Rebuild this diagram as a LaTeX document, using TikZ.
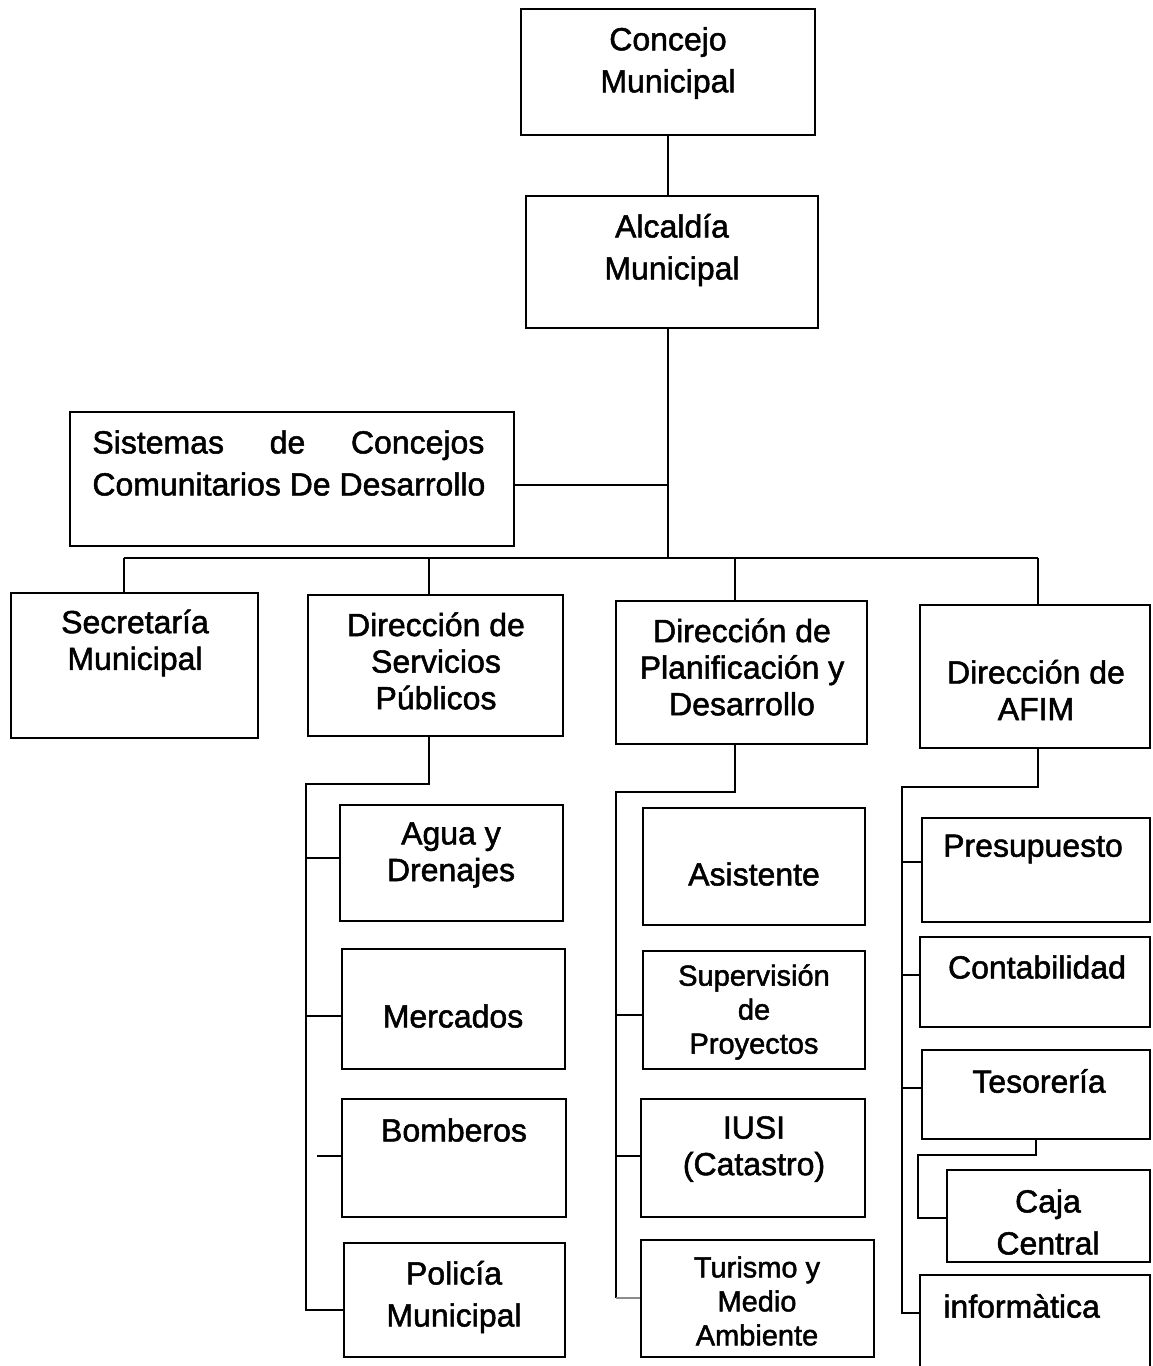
\documentclass[tikz,border=0pt]{standalone}
\usepackage{fontspec}
\setmainfont{Liberation Sans}[FakeBold=1.6]
\usetikzlibrary{fit}
\tikzset{
  box/.style={draw, line width=1pt, inner sep=0pt},
  lbl/.style={align=center, inner sep=0pt, font=\fontsize{16pt}{21pt}\selectfont},
  lbltight/.style={lbl, font=\fontsize{16pt}{18.3pt}\selectfont},
  lblsmall/.style={lbl, font=\fontsize{14.5pt}{17pt}\selectfont},
  conn/.style={line width=0.7pt},
  busline/.style={line width=1.1pt},
  faint/.style={line width=0.6pt, black!45}
}
\begin{document}
\begin{tikzpicture}[x=0.5pt,y=-0.5pt]
\useasboundingbox[fill=white] (0,0) rectangle (1152,1366);

% ---- boxes ----
\node[box, fit={(521,9) (815,135)}] (concejo) {};
\node[box, fit={(526,196) (818,328)}] (alcaldia) {};
\node[box, fit={(70,412) (514,546)}] (sistemas) {};
\node[box, fit={(11,593) (258,738)}] (secretaria) {};
\node[box, fit={(308,595) (563,736)}] (servicios) {};
\node[box, fit={(616,601) (867,744)}] (planif) {};
\node[box, fit={(920,605) (1150,748)}] (afim) {};

\node[box, fit={(340,805) (563,921)}] (agua) {};
\node[box, fit={(342,949) (565,1069)}] (mercados) {};
\node[box, fit={(342,1099) (566,1217)}] (bomberos) {};
\node[box, fit={(344,1243) (565,1357)}] (policia) {};

\node[box, fit={(643,808) (865,925)}] (asistente) {};
\node[box, fit={(643,951) (865,1069)}] (supervision) {};
\node[box, fit={(641,1099) (865,1217)}] (iusi) {};
\node[box, fit={(641,1240) (874,1357)}] (turismo) {};

\node[box, fit={(922,818) (1150,922)}] (presupuesto) {};
\node[box, fit={(920,937) (1150,1027)}] (contabilidad) {};
\node[box, fit={(922,1050) (1150,1139)}] (tesoreria) {};
\node[box, fit={(947,1170) (1150,1262)}] (caja) {};
\node[box, fit={(920,1275) (1150,1400)}] (informatica) {};

% ---- texts ----
\node[lbl] (tconcejo) at (668,63) {Concejo\\Municipal};
\node[lbl] (talcaldia) at (672,250) {Alcaldía\\Municipal};
\node[lbl, anchor=west, align=left] (tsistemas) at (92,463)
  {\makebox[196pt][s]{Sistemas de Concejos}\\Comunitarios De Desarrollo};
\node[lbltight] (tsecretaria) at (135,643) {Secretaría\\Municipal};
\node[lbltight] (tservicios) at (436,661) {Dirección de\\Servicios\\Públicos};
\node[lbltight] (tplanif) at (742,667) {Dirección de\\Planificación y\\Desarrollo};
\node[lbltight] (tafim) at (1036,690) {Dirección de\\AFIM};

\node[lbltight] (tagua) at (451,855) {Agua y\\Drenajes};
\node[lbl] (tmercados) at (453,1016) {Mercados};
\node[lbl] (tbomberos) at (454,1130) {Bomberos};
\node[lbl] (tpolicia) at (454,1297) {Policía\\Municipal};

\node[lbl] (tasistente) at (754,874) {Asistente};
\node[lblsmall] (tsupervision) at (754,1012) {Supervisión\\de\\Proyectos};
\node[lbltight] (tiusi) at (754,1149) {IUSI\\(Catastro)};
\node[lblsmall] (tturismo) at (757,1301) {Turismo y\\Medio\\Ambiente};

\node[lbl] (tpresupuesto) at (1033,849) {Presupuesto};
\node[lbl] (tcontabilidad) at (1037,967) {Contabilidad};
\node[lbl] (ttesoreria) at (1039,1081) {Tesorería};
\node[lbl] (tcaja) at (1048,1222) {Caja\\Central};
\node[lbl, anchor=west] (tinformatica) at (943,1306) {informàtica};

% ---- upper connectors ----
\coordinate (trunk) at (668,558);
\draw[conn] (concejo.south) -- (concejo.south |- alcaldia.north);
\draw[conn] (trunk |- alcaldia.south) -- (trunk);
\coordinate (sj) at (668,485);
\draw[busline] (sistemas.east |- sj) -- (sj);

\coordinate (bL) at (124,558);
\coordinate (b2) at (429,558);
\coordinate (b3) at (735,558);
\coordinate (bR) at (1038,558);
\draw[busline] (bL) -- (bR);
\draw[conn] (bL) -- (bL |- secretaria.north);
\draw[conn] (b2) -- (b2 |- servicios.north);
\draw[conn] (b3) -- (b3 |- planif.north);
\draw[conn] (bR) -- (bR |- afim.north);

% ---- Servicios Publicos ----
\coordinate (s0) at (429,784);
\coordinate (s1) at (306,784);
\coordinate (sp) at (306,1310);
\draw[conn] (s0 |- servicios.south) -- (s0) -- (s1) -- (sp) -- (sp -| policia.west);
\coordinate (st1) at (306,858);
\draw[conn] (st1) -- (st1 -| agua.west);
\coordinate (st2) at (306,1016);
\draw[conn] (st2) -- (st2 -| mercados.west);
\coordinate (st3) at (317,1156);
\draw[conn] (st3) -- (st3 -| bomberos.west);

% ---- Planificacion ----
\coordinate (p0) at (735,792);
\coordinate (p1) at (616,792);
\coordinate (pe) at (616,1298);
\draw[conn] (p0 |- planif.south) -- (p0) -- (p1) -- (pe);
\coordinate (pt1) at (616,1015);
\draw[conn] (pt1) -- (pt1 -| supervision.west);
\coordinate (pt2) at (616,1156);
\draw[conn] (pt2) -- (pt2 -| iusi.west);
\draw[faint] (pe) -- (pe -| turismo.west);

% ---- AFIM ----
\coordinate (a0) at (1038,787);
\coordinate (a1) at (902,787);
\coordinate (ae) at (902,1313);
\draw[conn] (a0 |- afim.south) -- (a0) -- (a1) -- (ae) -- (ae -| informatica.west);
\coordinate (at1) at (902,862);
\draw[conn] (at1) -- (at1 -| presupuesto.west);
\coordinate (at2) at (902,975);
\draw[conn] (at2) -- (at2 -| contabilidad.west);
\coordinate (at3) at (902,1088);
\draw[conn] (at3) -- (at3 -| tesoreria.west);

\coordinate (c0) at (1036,1155);
\coordinate (c1) at (918,1155);
\coordinate (ce) at (918,1218);
\draw[conn] (c0 |- tesoreria.south) -- (c0) -- (c1) -- (ce) -- (ce -| caja.west);
\end{tikzpicture}
\end{document}
